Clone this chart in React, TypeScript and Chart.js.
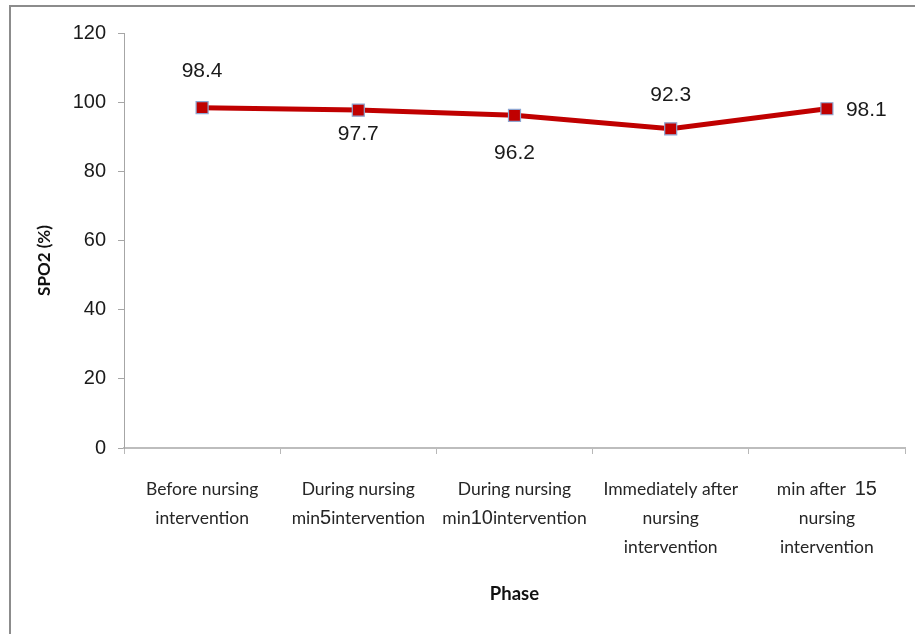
import React, { useEffect, useRef } from "react";
import { Chart, registerables } from "chart.js";

Chart.register(...registerables);

// Phase labels, one entry per category, each split into display lines
const phaseLabels: string[][] = [
  ["Before nursing", "intervention"],
  ["During nursing", "min5intervention"],
  ["During nursing", "min10intervention"],
  ["Immediately after", "nursing", "intervention"],
  ["min after  15", "nursing", "intervention"],
];

// Mean SpO2 (%) per phase
const spo2Values: number[] = [98.4, 97.7, 96.2, 92.3, 98.1];

// Y axis range and step
const yMin = 0;
const yMax = 120;
const yStep = 20;

const yTitle = "SPO2 (%)";
const xTitle = "Phase";

// Where each value label sits relative to its point
const labelPlacement: { side: "above" | "below" | "right"; gap: number }[] = [
  { side: "above", gap: 36 },
  { side: "below", gap: 24 },
  { side: "below", gap: 38 },
  { side: "above", gap: 34 },
  { side: "right", gap: 19 },
];

const TEXT_FONT = "Lato, 'Open Sans', sans-serif";
const NUM_FONT = "'Liberation Sans', Arial, sans-serif";

// Draws the value labels, the multi-font category labels and the axis titles
const annotatePlugin = {
  id: "annotate",
  afterDatasetsDraw(chart: any) {
    const { ctx, chartArea } = chart;
    const meta = chart.getDatasetMeta(0);
    const xScale = chart.scales.x;

    ctx.save();
    // value labels
    ctx.font = `21px ${NUM_FONT}`;
    ctx.fillStyle = "#1a1a1a";
    ctx.textBaseline = "middle";
    meta.data.forEach((pt: any, i: number) => {
      const p = labelPlacement[i];
      const text = String(spo2Values[i]);
      if (p.side === "right") {
        ctx.textAlign = "left";
        ctx.fillText(text, pt.x + p.gap, pt.y + 1);
      } else {
        ctx.textAlign = "center";
        ctx.fillText(text, pt.x, p.side === "above" ? pt.y - p.gap : pt.y + p.gap);
      }
    });

    // category labels: digits in a sans numeric face, words in the text face
    const textFont = `17.5px ${TEXT_FONT}`;
    const numFont = `20px ${NUM_FONT}`;
    ctx.fillStyle = "#262626";
    ctx.textAlign = "left";
    phaseLabels.forEach((lines, i) => {
      const cx = xScale.getPixelForTick(i);
      lines.forEach((line, j) => {
        const runs = line.split(/(\d+)/).filter((s) => s.length > 0);
        const widths = runs.map((r) => {
          ctx.font = /^\d+$/.test(r) ? numFont : textFont;
          return ctx.measureText(r).width;
        });
        const total = widths.reduce((a, b) => a + b, 0);
        let x = cx - total / 2;
        const y = chartArea.bottom + 41 + j * 29;
        runs.forEach((r, k) => {
          ctx.font = /^\d+$/.test(r) ? numFont : textFont;
          ctx.fillText(r, x, y);
          x += widths[k];
        });
      });
    });

    // axis titles
    ctx.fillStyle = "#111";
    ctx.font = `bold 18.5px ${TEXT_FONT}`;
    ctx.textAlign = "center";
    ctx.fillText(xTitle, (chartArea.left + chartArea.right) / 2, chartArea.bottom + 146);
    ctx.font = `bold 17px ${TEXT_FONT}`;
    ctx.translate(45, (chartArea.top + chartArea.bottom) / 2 + 20);
    ctx.rotate(-Math.PI / 2);
    ctx.fillText(yTitle, 0, 0);
    ctx.restore();
  },
};

export default function App() {
  const canvasRef = useRef<HTMLCanvasElement | null>(null);

  useEffect(() => {
    if (!canvasRef.current) return;
    const chart = new Chart(canvasRef.current, {
      type: "line",
      data: {
        labels: phaseLabels.map((l) => l.join(" ")),
        datasets: [
          {
            data: spo2Values,
            borderColor: "#c00000",
            borderWidth: 5,
            backgroundColor: "#c00000",
            pointStyle: "rect",
            pointRadius: 8.5,
            pointBorderColor: "#8ea6d2",
            pointBorderWidth: 1.2,
            pointBackgroundColor: "#c00000",
            tension: 0,
          },
        ],
      },
      options: {
        animation: false,
        responsive: false,
        layout: { padding: { top: 33, right: 10, left: 0, bottom: 0 } },
        plugins: {
          legend: { display: false },
          tooltip: { enabled: false },
        },
        scales: {
          x: {
            offset: true,
            grid: {
              offset: true,
              drawOnChartArea: false,
              drawTicks: true,
              tickLength: 6,
              color: "#b8b8b8",
            },
            border: { color: "#bdbdbd", width: 2 },
            ticks: { display: false },
            afterFit(scale: any) {
              scale.height = 186;
            },
          },
          y: {
            min: yMin,
            max: yMax,
            grid: {
              drawOnChartArea: false,
              drawTicks: true,
              tickLength: 6,
              color: "#a6a6a6",
            },
            border: { color: "#a6a6a6", width: 1 },
            ticks: {
              stepSize: yStep,
              padding: 12,
              color: "#1a1a1a",
              font: { family: NUM_FONT, size: 20 },
            },
            afterFit(scale: any) {
              scale.width = 124;
            },
          },
        },
      },
      plugins: [annotatePlugin],
    });
    return () => chart.destroy();
  }, []);

  return (
    <div
      style={{
        position: "fixed",
        left: 0,
        top: 0,
        width: 915,
        height: 634,
        background: "#ffffff",
        overflow: "hidden",
      }}
    >
      <div
        style={{
          position: "absolute",
          left: 9,
          top: 5,
          width: 930,
          height: 660,
          borderLeft: "2px solid #8c8c8c",
          borderTop: "2px solid #8c8c8c",
        }}
      />
      <canvas
        ref={canvasRef}
        width={915}
        height={634}
        style={{ position: "absolute", left: 0, top: 0 }}
      />
    </div>
  );
}
